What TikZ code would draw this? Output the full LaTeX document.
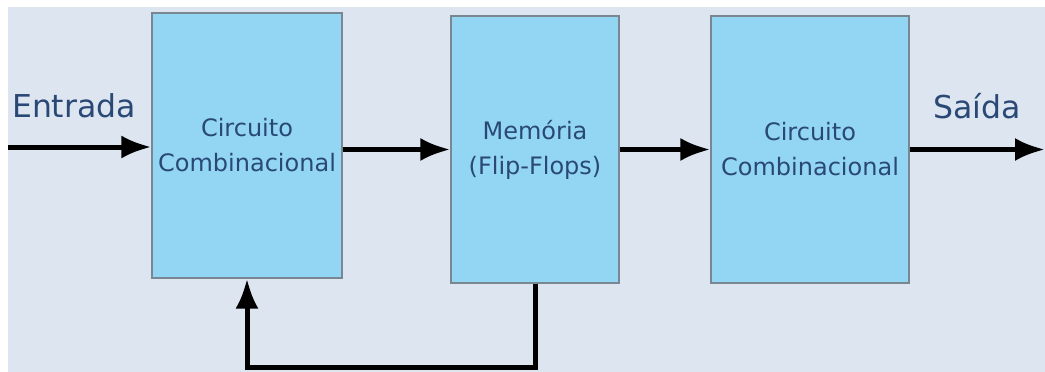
\documentclass[tikz,border=0pt]{standalone}
\usepackage{fontspec}
\setmainfont{DejaVu Sans}
\usetikzlibrary{arrows.meta}
\usetikzlibrary{positioning}
\definecolor{bgpanel}{RGB}{221,230,240}
\definecolor{boxfill}{RGB}{146,214,243}
\definecolor{boxline}{RGB}{120,135,145}
\definecolor{txtblue}{RGB}{42,72,118}
\tikzset{block/.style = {draw=boxline, line width=1.2pt, fill=boxfill, align=center,
                         text=txtblue, font=\fontsize{24}{35}\selectfont},
         flow/.style = {line width=5pt, -{Latex[length=30pt,width=23pt]}},
         io/.style = {text=txtblue, font=\fontsize{31.5}{36}\selectfont}}

\begin{document}
\begin{tikzpicture}[x=1pt, y=-1pt]
  \useasboundingbox (0,0) rectangle (1045,372);
  \fill[bgpanel] (8,7) rectangle (1045,372);

  \node[block, minimum width=190pt, minimum height=265pt] (comb1) at (247,145.5) {Circuito\\Combinacional};
  \node[block, minimum width=168pt, minimum height=267pt] (mem) at (535,149.5) {Memória\\(Flip-Flops)};
  \node[block, minimum width=198pt, minimum height=267pt] (comb2) at (810,149.5) {Circuito\\Combinacional};

  \coordinate (in) at (8,147);
  \coordinate (out) at (1045,149.5);
  \node[io] (entrada) at (74,106) {Entrada};
  \node[io] (saida) at (977,106) {Saída};

  \draw[flow] (in) -- (in -| comb1.west);
  \draw[flow] (comb1.east |- mem.west) -- (mem.west);
  \draw[flow] (mem.east) -- (comb2.west);
  \draw[flow] (comb2.east) -- (out);
  \draw[flow] (mem.south) -- ++(0,84) -| (comb1.south);
\end{tikzpicture}
\end{document}
